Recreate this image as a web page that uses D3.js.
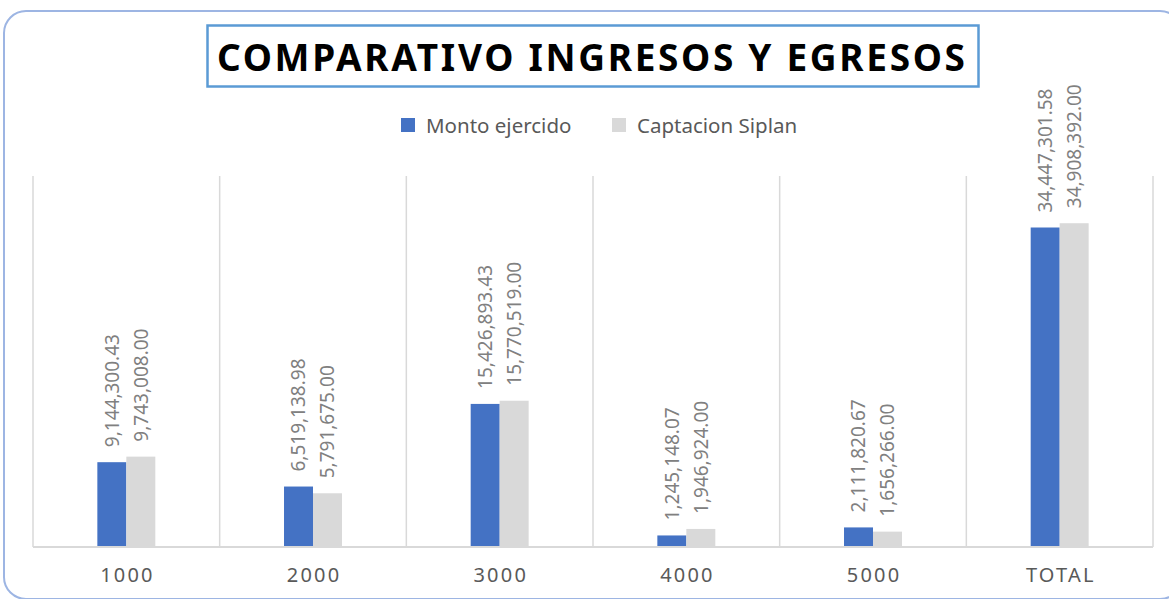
<!DOCTYPE html>
<html>
<head>
<meta charset="utf-8">
<script src="https://cdn.jsdelivr.net/npm/d3@7"></script>
<style>
  html, body { margin: 0; padding: 0; background: #fff; }
  svg { display: block; }
</style>
</head>
<body>
<svg id="chart" width="1169" height="599"></svg>
<script>
// data
const categories = ["1000", "2000", "3000", "4000", "5000", "TOTAL"];
const series = ["Monto ejercido", "Captacion Siplan"];
const montoEjercido = [9144300.43, 6519138.98, 15426893.43, 1245148.07, 2111820.67, 34447301.58];
const captacionSiplan = [9743008.00, 5791675.00, 15770519.00, 1946924.00, 1656266.00, 34908392.00];
const colors = ["#4472c4", "#d9d9d9"];
const titleText = "COMPARATIVO INGRESOS Y EGRESOS";

const values = [montoEjercido, captacionSiplan];
const fmt = d3.format(",.2f");

const svg = d3.select("#chart");

// outer rounded frame (runs off the right edge)
svg.append("rect")
    .attr("x", 4).attr("y", 11)
    .attr("width", 1178).attr("height", 588)
    .attr("rx", 22).attr("ry", 22)
    .attr("fill", "#fff")
    .attr("stroke", "#9db5e3")
    .attr("stroke-width", 2);

// title box
svg.append("rect")
    .attr("x", 207.5).attr("y", 25.5)
    .attr("width", 771).attr("height", 61)
    .attr("fill", "#fff")
    .attr("stroke", "#5b9bd5")
    .attr("stroke-width", 2.5);

svg.append("text")
    .attr("x", 217).attr("y", 71)
    .attr("font-family", "'Noto Sans', sans-serif")
    .attr("font-weight", "bold")
    .attr("font-size", 37)
    .attr("fill", "#000")
    .attr("textLength", 748)
    .attr("lengthAdjust", "spacing")
    .text(titleText);

// legend
const legendX = [401, 612];
const legend = svg.append("g");
series.forEach((s, i) => {
    legend.append("rect")
        .attr("x", legendX[i]).attr("y", 118)
        .attr("width", 14).attr("height", 14)
        .attr("fill", colors[i]);
    legend.append("text")
        .attr("x", legendX[i] + 25).attr("y", 133)
        .attr("font-family", "'Noto Sans', sans-serif")
        .attr("font-size", 20.5)
        .attr("fill", "#595959")
        .text(s);
});

// plot area
const margin = {top: 176, left: 33, right: 16, bottom: 52};
const width = 1169 - margin.left - margin.right;
const baseY = 599 - margin.bottom;

const x0 = d3.scaleBand()
    .domain(categories)
    .range([margin.left, margin.left + width])
    .paddingInner(0).paddingOuter(0);

const x1 = d3.scaleBand()
    .domain(series)
    .range([0, x0.bandwidth()])
    .paddingInner(0).paddingOuter(2.22);

const y = d3.scaleLinear()
    .domain([0, 40000000])
    .range([baseY, margin.top]);

const g = svg.append("g");

// vertical grid lines at category edges
const edges = categories.map(c => x0(c)).concat([x0(categories[categories.length - 1]) + x0.bandwidth()]);
g.selectAll("line.grid")
    .data(edges)
    .enter().append("line")
    .attr("class", "grid")
    .attr("x1", d => d).attr("x2", d => d)
    .attr("y1", margin.top).attr("y2", baseY)
    .attr("stroke", "#d9d9d9")
    .attr("stroke-width", 1.5);

// bars
const barData = [];
categories.forEach((c, ci) => {
    series.forEach((s, si) => {
        barData.push({cat: c, ser: s, si: si, value: values[si][ci]});
    });
});

g.selectAll("rect.bar")
    .data(barData)
    .enter().append("rect")
    .attr("class", "bar")
    .attr("x", d => x0(d.cat) + x1(d.ser))
    .attr("y", d => y(d.value))
    .attr("width", x1.bandwidth())
    .attr("height", d => baseY - y(d.value))
    .attr("fill", d => colors[d.si]);

// value labels (rotated)
g.selectAll("text.lbl")
    .data(barData)
    .enter().append("text")
    .attr("class", "lbl")
    .attr("transform", d => {
        const cx = x0(d.cat) + x1(d.ser) + x1.bandwidth() / 2;
        return "translate(" + cx + "," + (y(d.value) - 15) + ") rotate(-90)";
    })
    .attr("dy", "0.36em")
    .attr("font-family", "'Noto Sans', sans-serif")
    .attr("font-size", 19)
    .attr("fill", "#808080")
    .text(d => fmt(d.value));

// x axis baseline
g.append("line")
    .attr("x1", margin.left).attr("x2", margin.left + width)
    .attr("y1", baseY).attr("y2", baseY)
    .attr("stroke", "#d9d9d9")
    .attr("stroke-width", 2);

// category labels
const ls = 2.2;
g.selectAll("text.cat")
    .data(categories)
    .enter().append("text")
    .attr("class", "cat")
    .attr("x", d => x0(d) + x0.bandwidth() / 2 + ls / 2)
    .attr("y", 582)
    .attr("text-anchor", "middle")
    .attr("font-family", "'Noto Sans', sans-serif")
    .attr("font-size", 20)
    .attr("letter-spacing", ls)
    .attr("fill", "#595959")
    .text(d => d);
</script>
</body>
</html>
